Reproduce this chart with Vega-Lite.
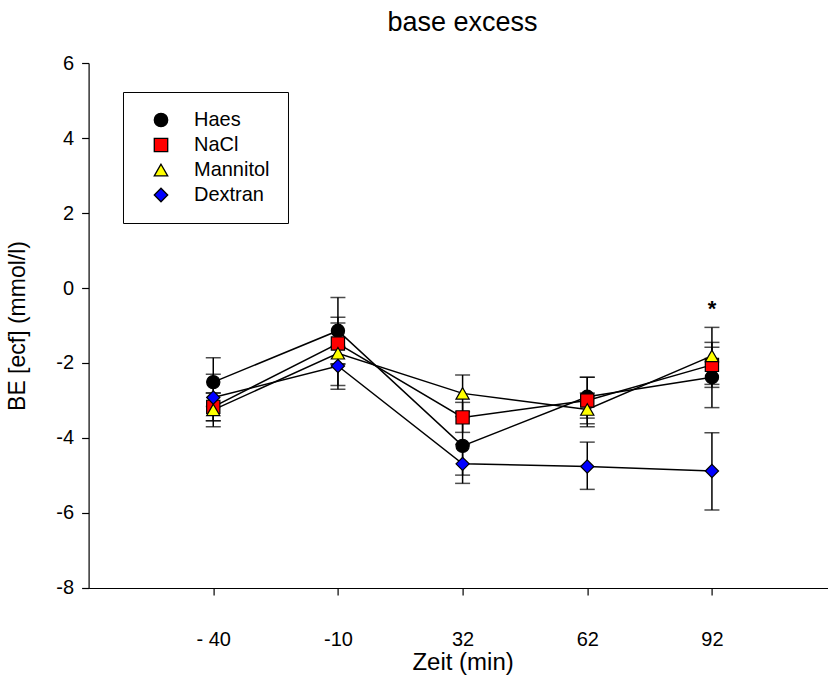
{
  "$schema": "https://vega.github.io/schema/vega-lite/v6.json",
  "width": 748,
  "height": 525,
  "autosize": {"type": "none"},
  "padding": {"left": 88.6, "top": 63, "right": 0, "bottom": 87},
  "background": "white",
  "title": {"text": "base excess", "fontSize": 27, "font": "Liberation Sans", "fontWeight": "normal", "offset": 16, "color": "black"},
  "data": {"values": [
    {"group": "Haes", "time": "- 40", "mean": -2.51, "lo": -3.16, "hi": -1.86},
    {"group": "Haes", "time": "-10", "mean": -1.14, "lo": -2.03, "hi": -0.25},
    {"group": "Haes", "time": "32", "mean": -4.21, "lo": -4.99, "hi": -3.43},
    {"group": "Haes", "time": "62", "mean": -2.9, "lo": -3.47, "hi": -2.38},
    {"group": "Haes", "time": "92", "mean": -2.38, "lo": -3.19, "hi": -1.58},
    {"group": "NaCl", "time": "- 40", "mean": -3.17, "lo": -3.54, "hi": -2.8},
    {"group": "NaCl", "time": "-10", "mean": -1.48, "lo": -2.03, "hi": -0.93},
    {"group": "NaCl", "time": "32", "mean": -3.45, "lo": -3.85, "hi": -3.05},
    {"group": "NaCl", "time": "62", "mean": -3.0, "lo": -3.62, "hi": -2.38},
    {"group": "NaCl", "time": "92", "mean": -2.05, "lo": -2.65, "hi": -1.45},
    {"group": "Mannitol", "time": "- 40", "mean": -3.25, "lo": -3.7, "hi": -2.8},
    {"group": "Mannitol", "time": "-10", "mean": -1.74, "lo": -2.7, "hi": -0.78},
    {"group": "Mannitol", "time": "32", "mean": -2.81, "lo": -3.3, "hi": -2.32},
    {"group": "Mannitol", "time": "62", "mean": -3.24, "lo": -3.7, "hi": -2.8},
    {"group": "Mannitol", "time": "92", "mean": -1.81, "lo": -2.57, "hi": -1.05},
    {"group": "Dextran", "time": "- 40", "mean": -2.92, "lo": -3.54, "hi": -2.3},
    {"group": "Dextran", "time": "-10", "mean": -2.08, "lo": -2.6, "hi": -1.56},
    {"group": "Dextran", "time": "32", "mean": -4.69, "lo": -5.21, "hi": -4.17},
    {"group": "Dextran", "time": "62", "mean": -4.76, "lo": -5.37, "hi": -4.11},
    {"group": "Dextran", "time": "92", "mean": -4.88, "lo": -5.92, "hi": -3.86}
  ]},
  "encoding": {
    "x": {
      "field": "time", "type": "ordinal",
      "sort": ["- 40", "-10", "32", "62", "92"],
      "scale": {"type": "point", "padding": 1},
      "axis": {
        "title": "Zeit (min)", "labelAngle": 0, "labelFontSize": 20, "titleFontSize": 24,
        "tickSize": 7, "labelPadding": 35, "titleY": 75, "titleBaseline": "middle",
        "titleFontWeight": "normal", "grid": false
      }
    },
    "y": {
      "field": "mean", "type": "quantitative",
      "scale": {"domain": [-8, 6], "nice": false, "zero": false},
      "axis": {
        "title": "BE [ecf] (mmol/l)", "values": [-8, -6, -4, -2, 0, 2, 4, 6],
        "labelExpr": "toString(datum.value)",
        "tickSize": 7, "labelPadding": 8, "labelFontSize": 20, "titleFontSize": 23,
        "titleX": -70.6, "titleY": 262.5, "titleBaseline": "middle", "titleFontWeight": "normal", "grid": false
      }
    }
  },
  "layer": [
    {
      "mark": {"type": "rule", "color": "black", "strokeWidth": 1.5},
      "encoding": {
        "y": {"field": "lo", "type": "quantitative", "title": "BE [ecf] (mmol/l)"},
        "y2": {"field": "hi"},
        "detail": {"field": "group"}
      }
    },
    {
      "mark": {"type": "tick", "color": "black", "size": 15, "thickness": 1.5, "orient": "horizontal"},
      "encoding": {"y": {"field": "lo", "type": "quantitative", "title": "BE [ecf] (mmol/l)"}}
    },
    {
      "mark": {"type": "tick", "color": "black", "size": 15, "thickness": 1.5, "orient": "horizontal"},
      "encoding": {"y": {"field": "hi", "type": "quantitative", "title": "BE [ecf] (mmol/l)"}}
    },
    {
      "mark": {"type": "line", "color": "black", "strokeWidth": 1.5},
      "encoding": {
        "detail": {"field": "group"}
      }
    },
    {
      "mark": {"type": "point", "filled": true, "stroke": "black", "strokeWidth": 1.2, "opacity": 1, "size": 175},
      "encoding": {
        "fill": {
          "field": "group", "type": "nominal",
          "scale": {"domain": ["Haes", "NaCl", "Mannitol", "Dextran"], "range": ["#000000", "#ff0000", "#ffff00", "#0000ff"]},
          "legend": {
            "title": null, "orient": "none", "legendX": 34.4, "legendY": 29,
            "strokeColor": "black", "fillColor": "white", "padding": 18,
            "labelFontSize": 20, "labelFont": "Liberation Sans", "labelColor": "black",
            "rowPadding": 5, "symbolSize": 180, "symbolOffset": 10, "labelOffset": 23,
            "symbolStrokeColor": "black", "symbolStrokeWidth": 1.3
          }
        },
        "shape": {
          "field": "group", "type": "nominal",
          "scale": {"domain": ["Haes", "NaCl", "Mannitol", "Dextran"], "range": ["circle", "square", "triangle-up", "diamond"]}
        }
      }
    },
    {
      "data": {"values": [{"time": "92", "mean": -0.74, "label": "*"}]},
      "mark": {"type": "text", "fontSize": 22, "fontWeight": "bold", "font": "Liberation Sans", "color": "black", "baseline": "alphabetic"},
      "encoding": {
        "text": {"field": "label"}
      }
    }
  ],
  "config": {
    "view": {"stroke": null},
    "font": "Liberation Sans",
    "axis": {"domainColor": "black", "tickColor": "black", "labelColor": "black", "titleColor": "black", "labelFont": "Liberation Sans", "titleFont": "Liberation Sans", "domainWidth": 1.2, "tickWidth": 1.2}
  }
}
